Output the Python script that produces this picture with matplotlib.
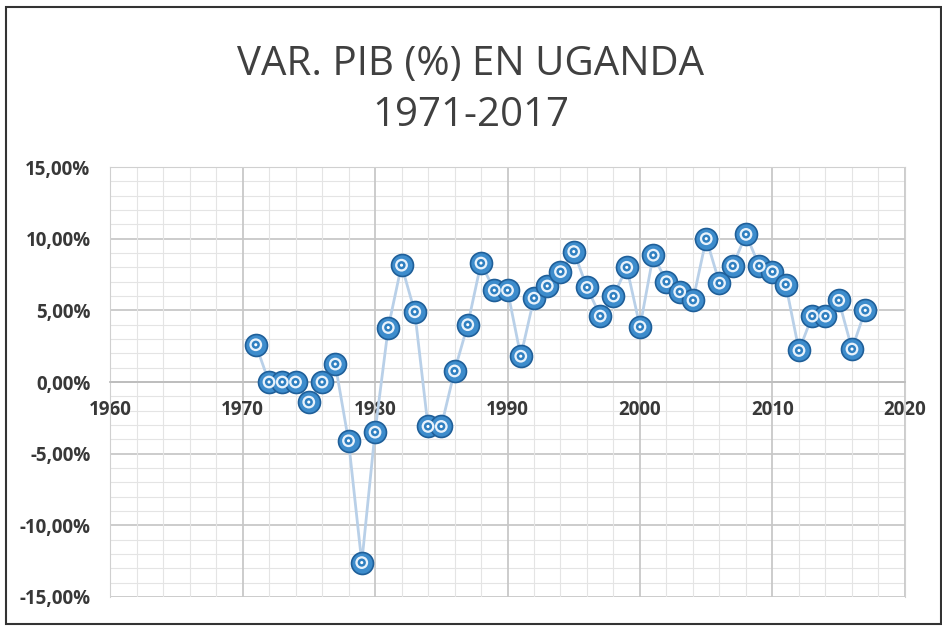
import matplotlib
matplotlib.use("Agg")
import matplotlib.pyplot as plt
from matplotlib.ticker import MultipleLocator, FuncFormatter
from matplotlib.patches import Rectangle

# Uganda GDP growth (%)
years = list(range(1971, 2018))
growth = [2.6, 0.0, 0.0, 0.0, -1.4, 0.0, 1.25, -4.1, -12.6, -3.5,
          3.8, 8.15, 4.9, -3.1, -3.1, 0.77, 4.0, 8.3, 6.4, 6.4,
          1.8, 5.85, 6.7, 7.7, 9.1, 6.6, 4.6, 6.0, 8.0, 3.85,
          8.85, 7.0, 6.3, 5.7, 10.0, 6.9, 8.1, 10.3, 8.1, 7.7,
          6.8, 2.2, 4.6, 4.6, 5.7, 2.3, 5.0]
title = "VAR. PIB (%) EN UGANDA\n1971-2017"

plt.rcParams["font.family"] = ["Open Sans", "DejaVu Sans"]

fig = plt.figure(figsize=(9.42, 6.31), dpi=100)
ax = fig.add_axes([0.1168, 0.0539, 0.8439, 0.6814])

# outer chart frame
fig.patches.append(Rectangle((6 / 942, 7 / 631), 935 / 942, 617 / 631,
                             transform=fig.transFigure, fill=False,
                             edgecolor="#333333", linewidth=1.5))

ax.plot(years, growth, color="#b9d0e8", linewidth=2, zorder=3)
ax.scatter(years, growth, s=250, facecolor="#3d8ccc", edgecolor="#1f5f99",
           linewidth=1.2, zorder=4)
ax.scatter(years, growth, s=85, facecolor="#e8f2fb", edgecolor="none", zorder=5)
ax.scatter(years, growth, s=35, facecolor="#2f7fc0", edgecolor="none", zorder=6)
ax.scatter(years, growth, s=5, facecolor="white", edgecolor="none", zorder=7)

ax.set_xlim(1960, 2020)
ax.set_ylim(-15, 15)
ax.xaxis.set_major_locator(MultipleLocator(10))
ax.xaxis.set_minor_locator(MultipleLocator(2))
ax.yaxis.set_major_locator(MultipleLocator(5))
ax.yaxis.set_minor_locator(MultipleLocator(1))
ax.yaxis.set_major_formatter(FuncFormatter(lambda v, p: f"{v:.2f}%".replace(".", ",")))

ax.grid(which="major", color="#c8c8c8", linewidth=1.3)
ax.grid(which="minor", color="#e4e4e4", linewidth=0.8)
ax.set_axisbelow(True)
# draw the x axis (with its labels) after the horizontal gridlines
ax.yaxis.set_zorder(0.3)
ax.xaxis.set_zorder(0.6)

for s in ["top", "right", "left"]:
    ax.spines[s].set_color("#d0d0d0")
ax.spines["bottom"].set_position(("data", 0))
ax.spines["bottom"].set_color("#bdbdbd")
ax.spines["bottom"].set_linewidth(1.3)
ax.tick_params(which="both", length=0)
ax.tick_params(axis="x", labelsize=13.5, colors="#383838", pad=13)
ax.tick_params(axis="y", labelsize=13.5, colors="#383838", pad=14)
for lbl in ax.get_xticklabels() + ax.get_yticklabels():
    lbl.set_fontweight("bold")

fig.text(0.5, 0.93, title, ha="center", va="top", fontsize=29,
         color="#404040", linespacing=1.35)

fig.savefig("out.png", dpi=100, facecolor="white")
